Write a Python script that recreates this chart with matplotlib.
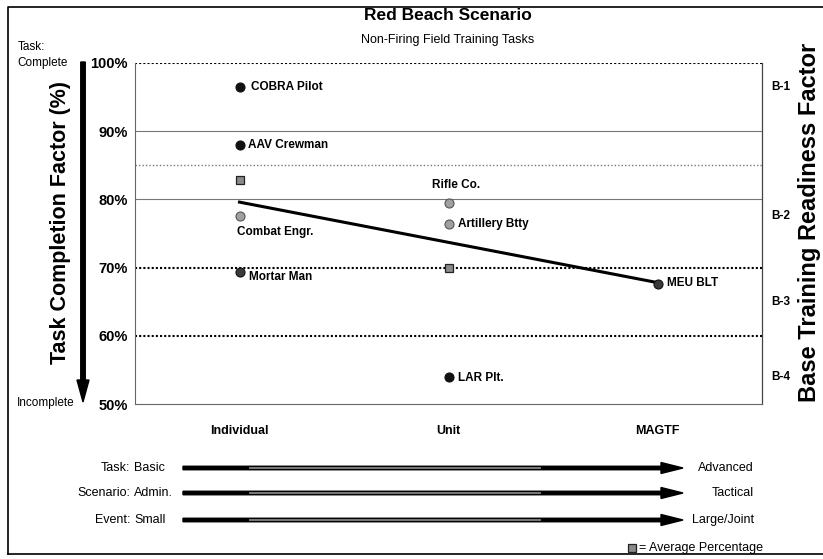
import numpy as np
import matplotlib.pyplot as plt
from matplotlib.patches import FancyArrow

plt.rcParams['font.family'] = ['Liberation Sans', 'DejaVu Sans']

# --- data ---
categories = ['Individual', 'Unit', 'MAGTF']

point_names = ['COBRA Pilot', 'AAV Crewman', 'Combat Engr.', 'Mortar Man',
               'Rifle Co.', 'Artillery Btty', 'LAR Plt.', 'MEU BLT']
point_cat = [0, 0, 0, 0, 1, 1, 1, 2]
point_val = [96.5, 88.0, 77.6, 69.4, 79.5, 76.4, 54.0, 67.6]
point_tone = ['black', 'black', 'light', 'dark', 'light', 'light', 'black', 'dark']

avg_cat = [0, 1]
avg_val = [82.8, 70.0]

trend_cat = [0, 2]
trend_val = [79.6, 67.8]

yticks = [50, 60, 70, 80, 90, 100]
band_labels = ['B-1', 'B-2', 'B-3', 'B-4']
band_pos = [96.5, 77.5, 65.0, 54.0]

rows_left = ['Task:', 'Scenario:', 'Event:']
rows_start = ['Basic', 'Admin.', 'Small']
rows_end = ['Advanced', 'Tactical', 'Large/Joint']

W, H = 823, 559
fig = plt.figure(figsize=(W / 100, H / 100), dpi=100)

# background axes in pixel coords for frame, arrows and side text
bg = fig.add_axes([0, 0, 1, 1])
bg.set_xlim(0, W)
bg.set_ylim(H, 0)
bg.axis('off')

# frame (left, top, bottom)
bg.plot([8, 8, W], [554, 7, 7], color='black', lw=1.2)
bg.plot([8, W], [554, 554], color='black', lw=1.2)

ax = fig.add_axes([135 / W, 1 - 404 / H, (762 - 135) / W, (404 - 63) / H])
ax.set_xlim(-0.5, 2.5)
ax.set_ylim(50, 100)

# grid lines
ax.axhline(90, color='#777777', lw=0.8)
ax.axhline(80, color='#777777', lw=0.8)
ax.axhline(85, color='#777777', lw=1.0, ls=(0, (1, 1.5)))
for v in [100, 70, 60]:
    ax.axhline(v, color='black', lw=1.5, ls=(0, (1, 1)))

for s in ['left', 'bottom']:
    ax.spines[s].set_color('#666666')
    ax.spines[s].set_linewidth(0.8)
    ax.spines[s].set_linestyle((0, (2, 1)))
ax.spines['top'].set_visible(False)
ax.spines['right'].set_color('#444444')
ax.spines['right'].set_linewidth(0.9)

ax.set_yticks(yticks)
ax.set_yticklabels([f'{v}%' for v in yticks], fontsize=10.5, fontweight='bold')
ax.set_xticks(range(len(categories)))
ax.set_xticklabels(categories, fontsize=9, fontweight='bold')
ax.tick_params(axis='both', length=0)
ax.tick_params(axis='x', pad=15)
ax.tick_params(axis='y', pad=5)

# trend line
ax.plot(trend_cat, trend_val, color='black', lw=2.2, zorder=3)

tones = {'black': ('#111111', '#111111'),
         'light': ('#a0a0a0', '#555555'),
         'dark': ('#3a3a3a', '#111111')}
offsets = {'COBRA Pilot': (8, 0, 'left'), 'AAV Crewman': (6, 0, 'left'),
           'Combat Engr.': (-2, -12, 'left'), 'Mortar Man': (7, -4, 'left'),
           'Rifle Co.': (-12, 13, 'left'), 'Artillery Btty': (7, 0, 'left'),
           'LAR Plt.': (7, -1, 'left'), 'MEU BLT': (7, 1, 'left')}

for name, c, v, t in zip(point_names, point_cat, point_val, point_tone):
    fc, ec = tones[t]
    ax.plot(c, v, 'o', ms=6.5, mfc=fc, mec=ec, mew=0.8, zorder=4)
    dx, dy, ha = offsets[name]
    ax.annotate(name, (c, v), xytext=(dx, dy), textcoords='offset points',
                ha=ha, va='center', fontsize=8.5, fontweight='bold')

ax.plot(avg_cat, avg_val, 's', ms=6, mfc='#8a8a8a', mec='#222222', mew=0.9, zorder=4)

# band labels on right
for lab, pos in zip(band_labels, band_pos):
    ax.text(1.03, pos, lab, transform=ax.get_yaxis_transform(), fontsize=8.5,
            fontweight='bold', ha='center', va='center')

# titles
bg.text(448, 15, 'Red Beach Scenario', fontsize=12.5, fontweight='bold', ha='center', va='center')
bg.text(448, 40, 'Non-Firing Field Training Tasks', fontsize=9, ha='center', va='center')

# left axis label and arrow
bg.text(61, 222, 'Task Completion Factor (%)', rotation=90, fontsize=15.5,
        fontweight='bold', ha='center', va='center')
bg.add_patch(FancyArrow(83, 62, 0, 340, width=4.5, head_width=12, head_length=22,
                        length_includes_head=True, color='black'))
bg.text(18, 47, 'Task:', fontsize=8.5, ha='left', va='center')
bg.text(17, 63, 'Complete', fontsize=8.5, ha='left', va='center')
bg.text(75, 403, 'Incomplete', fontsize=8.5, ha='right', va='center')

# right axis label
bg.text(810, 222, 'Base Training Readiness Factor', rotation=90, fontsize=17,
        fontweight='bold', ha='center', va='center')

# progression arrows
row_y = [468, 493, 520]
for lab, start, end, y in zip(rows_left, rows_start, rows_end, row_y):
    bg.text(130, y, lab, fontsize=9, ha='right', va='center')
    bg.text(134, y, start, fontsize=9, ha='left', va='center')
    bg.add_patch(FancyArrow(183, y, 500, 0, width=3.5, head_width=11, head_length=22,
                            length_includes_head=True, color='black'))
    bg.plot([250, 540], [y, y], color='#7a7a7a', lw=1.4, zorder=5)
    bg.text(754, y, end, fontsize=9, ha='right', va='center')

# legend note
bg.plot(632, 548, 's', ms=6, mfc='#8a8a8a', mec='#222222', mew=0.9)
bg.text(639, 548, '= Average Percentage', fontsize=9, ha='left', va='center')

fig.savefig('out.png', dpi=100)
